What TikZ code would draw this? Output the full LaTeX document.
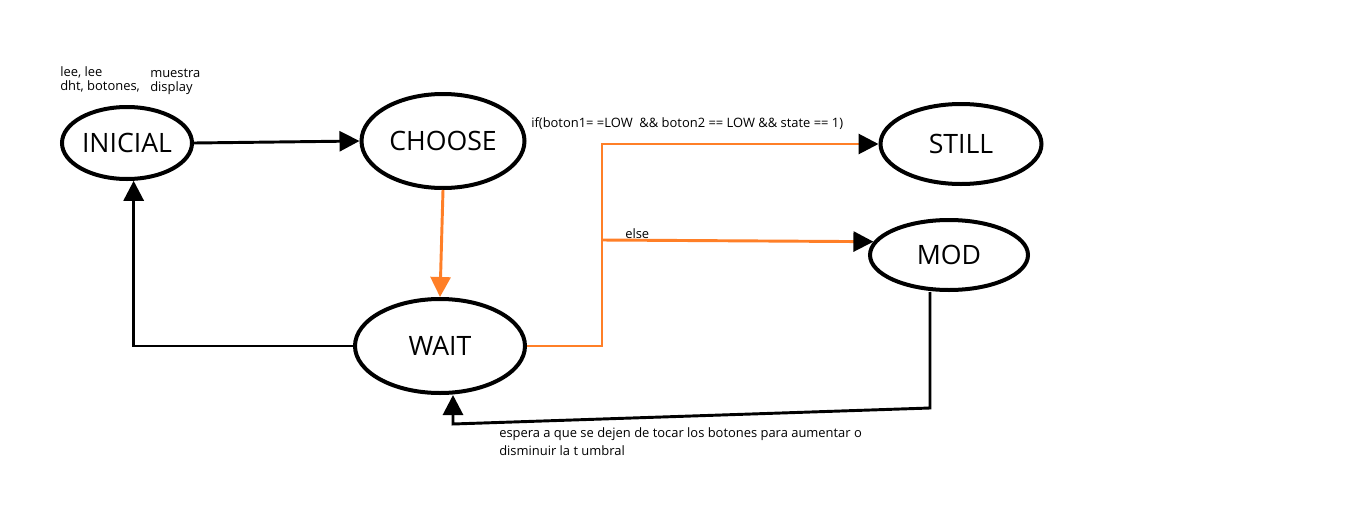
\documentclass[tikz,border=0pt]{standalone}
\usepackage{fontspec}
\setmainfont{Open Sans}
\usetikzlibrary{arrows.meta,shapes.geometric,calc}
\definecolor{lineorange}{RGB}{255,127,39}
\begin{document}
\begin{tikzpicture}[x=0.75pt,y=-0.75pt,
  state/.style={draw,ellipse,line width=3pt,inner sep=0pt,font=\fontsize{20}{24}\selectfont},
  conn/.style={line width=2.2pt,-{Triangle[length=15pt,width=15pt]}},
  oconn/.style={line width=2.2pt,draw=lineorange,-{Triangle[length=15pt,width=15pt,color=black]}},
  oline/.style={line width=2.2pt,draw=lineorange},
  small/.style={font=\fontsize{9.7}{10.5}\selectfont,inner sep=0pt,align=left}]
\useasboundingbox (0,0) rectangle (1360,518);
\fill[white] (0,0) rectangle (1360,518);

\node[state,minimum width=97.5pt,minimum height=54pt] (INICIAL) at (127,143) {INICIAL};
\node[state,minimum width=122.25pt,minimum height=70.5pt] (CHOOSE) at (443,141) {CHOOSE};
\node[state,minimum width=120.75pt,minimum height=60pt] (STILL) at (961,144) {STILL};
\node[state,minimum width=118.5pt,minimum height=52.5pt] (MOD) at (949,255) {MOD};
\node[state,minimum width=127.5pt,minimum height=70.5pt] (WAIT) at (440,346) {WAIT};

\node[small,anchor=north west] (lbl1) at (60,66) {lee, lee\\dht, botones,};
\node[small,anchor=north west] (lbl2) at (150,69) {muestra\\display};
\node[small,anchor=base west] (cond) at (531,127) {if(boton1= =LOW \ \&\& boton2 == LOW \&\& state == 1)};
\node[small,anchor=base west] (els) at (625,238) {else};
\node[small,anchor=north west,font=\fontsize{9.7}{13.5}\selectfont] (note) at (499,427) {espera a que se dejen de tocar los botones para aumentar o\\disminuir la t umbral};

\coordinate (split) at (602,240);
\coordinate (m1) at (930,408);
\coordinate (m2) at (453,424);

\draw[conn] (INICIAL.east) -- (CHOOSE.west);
\draw[conn,draw=lineorange,-{Triangle[length=15pt,width=15pt,color=lineorange]}] (CHOOSE.south) -- (WAIT.north);
\draw[conn] (WAIT.west) -| (INICIAL.-80);
\draw[oline] (WAIT.east) -| (split);
\draw[oconn] (split) |- (STILL.west);
\draw[oconn] (split) -- (MOD.170);
\draw[conn] (m1 |- MOD.south) -- (m1) -- (m2) -- (m2 |- WAIT.south);
\end{tikzpicture}
\end{document}
